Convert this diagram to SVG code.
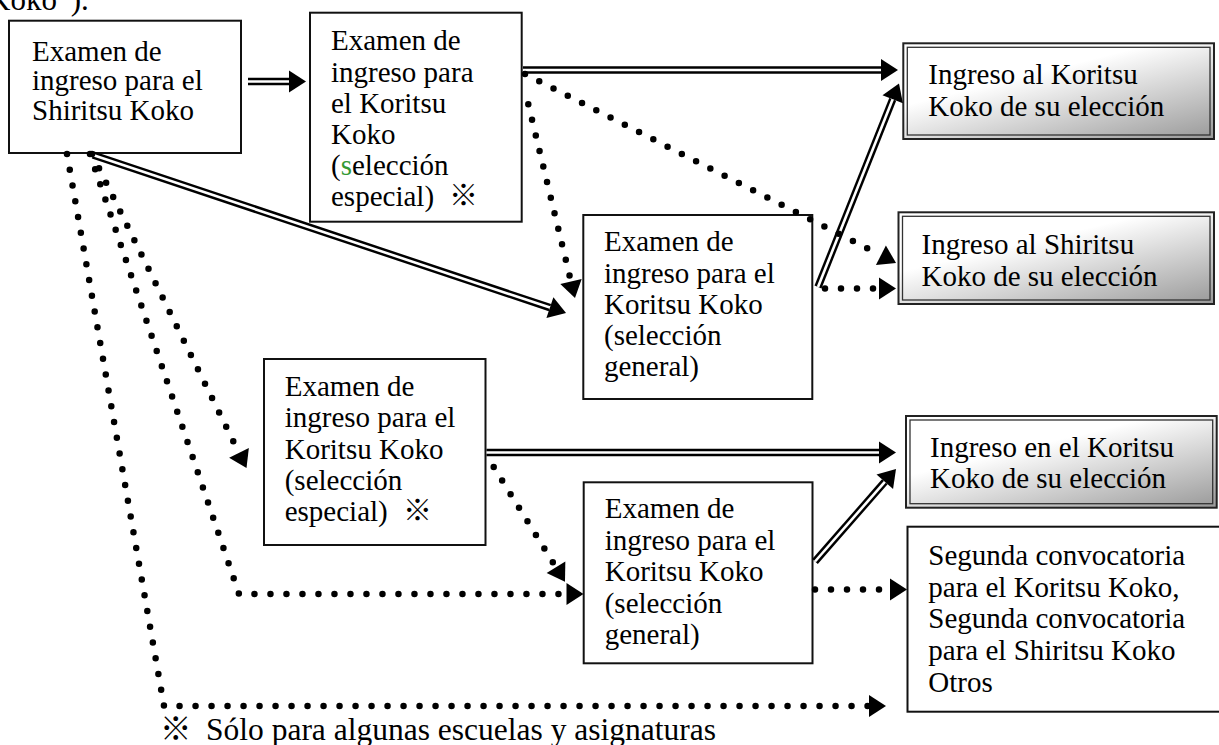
<svg xmlns="http://www.w3.org/2000/svg" width="1219" height="745" viewBox="0 0 1219 745">
<style>
.t{font-family:"Liberation Serif","Times New Roman","DejaVu Serif",serif;font-size:29px;fill:#000}
.cjk{font-family:"Noto Sans CJK JP","Noto Sans CJK SC",sans-serif;font-weight:300}
.box{fill:#fff;stroke:#111;stroke-width:2}
.ro{fill:url(#g);stroke:#222;stroke-width:2}
.ri{fill:none;stroke:#333;stroke-width:1.3}
.dot{fill:none;stroke:#000;stroke-width:6.5;stroke-linecap:round;stroke-dasharray:0 16;marker-end:url(#ah)}
.dbl{fill:none;stroke:#000;stroke-width:7.5;marker-end:url(#ah)}
.dbi{fill:none;stroke:#fff;stroke-width:2.6}
</style>
<defs>
<linearGradient id="g" x1="0.2" y1="0" x2="1" y2="1">
<stop offset="0" stop-color="#ffffff"/>
<stop offset="0.3" stop-color="#ffffff"/>
<stop offset="1" stop-color="#999999"/>
</linearGradient>
<marker id="ah" markerUnits="userSpaceOnUse" markerWidth="17" markerHeight="22" viewBox="0 0 17 22" refX="0" refY="11" orient="auto" overflow="visible">
<path d="M0,0 L17,11 L0,22 z" fill="#000"/>
</marker>
</defs>
<rect width="1219" height="745" fill="#fff"/>
<text class="t" x="-12" y="10" style="font-size:31px">Koko”).</text>

<g id="n1">
<rect class="box" x="9" y="20.7" width="232" height="132.3"/>
<text class="t"><tspan x="32" y="60.5">Examen de</tspan><tspan x="32" y="90">ingreso para el</tspan><tspan x="32" y="119.5">Shiritsu Koko</tspan></text>
</g>
<g id="n2">
<rect class="box" x="310" y="12.7" width="211.7" height="209"/>
<text class="t"><tspan x="331" y="50.3">Examen de</tspan><tspan x="331" y="81.5">ingreso para</tspan><tspan x="331" y="112.5">el Koritsu</tspan><tspan x="331" y="143.8">Koko</tspan><tspan x="331" y="175">(<tspan fill="#339933">s</tspan>elección</tspan><tspan x="331" y="206.3">especial)</tspan><tspan class="cjk" x="449" y="206.3">※</tspan></text>
</g>
<g id="n3">
<rect class="box" x="264" y="359" width="221.5" height="186"/>
<text class="t"><tspan x="284.7" y="396">Examen de</tspan><tspan x="284.7" y="427.3">ingreso para el</tspan><tspan x="284.7" y="458.6">Koritsu Koko</tspan><tspan x="284.7" y="490">(selección</tspan><tspan x="284.7" y="521.3">especial)</tspan><tspan class="cjk" x="403" y="521.3">※</tspan></text>
</g>
<g id="n4">
<rect class="box" x="583.3" y="215" width="229" height="184"/>
<text class="t"><tspan x="604" y="251.3">Examen de</tspan><tspan x="604" y="282.5">ingreso para el</tspan><tspan x="604" y="313.8">Koritsu Koko</tspan><tspan x="604" y="345">(selección</tspan><tspan x="604" y="376.3">general)</tspan></text>
</g>
<g id="n5">
<rect class="box" x="583.7" y="482.3" width="228.8" height="181"/>
<text class="t"><tspan x="604.7" y="518">Examen de</tspan><tspan x="604.7" y="549.5">ingreso para el</tspan><tspan x="604.7" y="581">Koritsu Koko</tspan><tspan x="604.7" y="612.5">(selección</tspan><tspan x="604.7" y="644">general)</tspan></text>
</g>
<g id="r1">
<rect class="ro" x="903.3" y="43.3" width="310.7" height="95.7"/>
<rect class="ri" x="907.3" y="47.3" width="302.7" height="87.7"/>
<text class="t"><tspan x="928.3" y="83.5">Ingreso al Koritsu</tspan><tspan x="928.3" y="115.5">Koko de su elección</tspan></text>
</g>
<g id="r2">
<rect class="ro" x="898.5" y="212.3" width="315.5" height="91.7"/>
<rect class="ri" x="902.5" y="216.3" width="307.5" height="83.7"/>
<text class="t"><tspan x="921.5" y="254">Ingreso al Shiritsu</tspan><tspan x="921.5" y="285.5">Koko de su elección</tspan></text>
</g>
<g id="r3">
<rect class="ro" x="906" y="416" width="310.7" height="91.7"/>
<rect class="ri" x="910" y="420" width="302.7" height="83.7"/>
<text class="t"><tspan x="930" y="456.5">Ingreso en el Koritsu</tspan><tspan x="930" y="488">Koko de su elección</tspan></text>
</g>
<g id="r4">
<rect class="box" x="907.5" y="526.7" width="330" height="185"/>
<text class="t"><tspan x="928.3" y="565">Segunda convocatoria</tspan><tspan x="928.3" y="596.7">para el Koritsu Koko,</tspan><tspan x="928.3" y="628.3">Segunda convocatoria</tspan><tspan x="928.3" y="660">para el Shiritsu Koko</tspan><tspan x="928.3" y="691.7">Otros</tspan></text>
</g>

<g id="connectors">
<path class="dbl" d="M248,81.5 H289"/><path class="dbi" d="M248,81.5 H289"/>
<path class="dbl" d="M523,70 H881"/><path class="dbi" d="M523,70 H881"/>
<path class="dbl" d="M93,155 L549.9,307.6"/><path class="dbi" d="M93,155 L549.9,307.6"/>
<path class="dbl" d="M486.5,452.5 H879"/><path class="dbi" d="M486.5,452.5 H879"/>
<path class="dbl" d="M818,287 L892.7,99.3"/><path class="dbi" d="M818,287 L892.7,99.3"/>
<path class="dbl" d="M815,561.5 L884.8,481.8"/><path class="dbi" d="M815,561.5 L884.8,481.8"/>
<path class="dot" d="M525,74 L880.9,255.3"/>
<path class="dot" d="M528.3,104.3 L571,281.5"/>
<path class="dot" d="M92,154 L239,452.8"/>
<path class="dot" d="M493.7,467 L556,567.3"/>
<path class="dot" d="M825,288.5 H879"/>
<path class="dot" d="M815,589.5 H890"/>
<path class="dot" d="M67,154 L164,706 H869"/>
<path class="dot" d="M90,154 L239,594 H566.5"/>
</g>

<text class="t" y="740" style="font-size:31.5px"><tspan class="cjk" x="160">※</tspan><tspan x="206">Sólo para algunas escuelas y asignaturas</tspan></text>
</svg>
